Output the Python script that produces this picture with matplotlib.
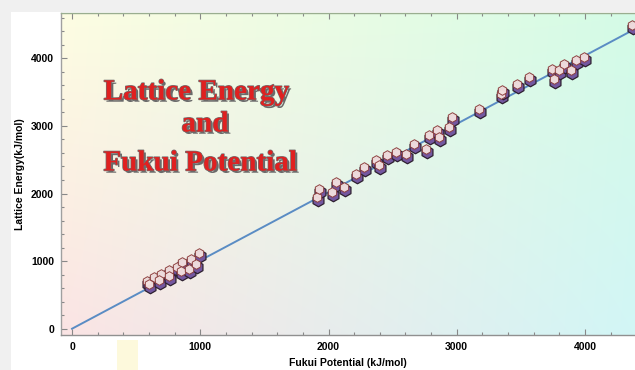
import numpy as np
import matplotlib
matplotlib.use("Agg")
import matplotlib.pyplot as plt
import matplotlib.patheffects as pe
import matplotlib.transforms as mtransforms
from matplotlib.patches import Rectangle
from matplotlib.ticker import MultipleLocator

# ---- data ----
fukui = [592, 647, 701, 764, 826, 865, 935, 998, 608, 686, 764, 857, 920, 974,
         1917, 1933, 2034, 2065, 2128, 2221, 2284, 2378, 2401, 2463, 2533, 2611,
         2673, 2767, 2790, 2853, 2868, 2946, 2970, 3180, 3352, 3360, 3476, 3570,
         3749, 3765, 3804, 3843, 3897, 3936, 3998, 4372]
lattice = [661, 720, 765, 824, 868, 942, 987, 1075, 617, 676, 735, 809, 839, 913,
           1904, 2022, 1978, 2126, 2052, 2244, 2348, 2451, 2377, 2525, 2570, 2540,
           2688, 2614, 2821, 2895, 2792, 2939, 3087, 3205, 3427, 3487, 3575, 3679,
           3797, 3649, 3783, 3871, 3783, 3930, 3975, 4448]
fit_slope = 1.01
fit_intercept = 0.0
x_ticks = [0, 1000, 2000, 3000, 4000]
y_ticks = [0, 1000, 2000, 3000, 4000]
title_lines = ["Lattice Energy", "and", "Fukui Potential"]

W, H = 635, 370
fig = plt.figure(figsize=(W / 100, H / 100), dpi=100, facecolor="white")

# outer grey band (top and left)
fig.patches.append(Rectangle((0, 1 - 12 / H), 1, 12 / H, transform=fig.transFigure,
                             facecolor="#f0f0f0", edgecolor="none", zorder=0))
fig.patches.append(Rectangle((0, 0), 11 / W, 1, transform=fig.transFigure,
                             facecolor="#f0f0f0", edgecolor="none", zorder=0))
# pale yellow blob under axis
fig.patches.append(Rectangle((117 / W, 0), 21 / W, 30 / H, transform=fig.transFigure,
                             facecolor="#fdf9dc", edgecolor="none", zorder=0))

ax = fig.add_axes([61 / W, 1 - 335 / H, 1 - 61 / W, (335 - 13) / H])
xmin, xmax, ymin, ymax = -86, 4390, -93, 4670
ax.set_xlim(xmin, xmax)
ax.set_ylim(ymin, ymax)

# gradient background
tl = np.array([253, 253, 226]) / 255
bl = np.array([251, 228, 228]) / 255
tr = np.array([212, 251, 230]) / 255
br = np.array([210, 246, 246]) / 255
u = np.linspace(0, 1, 200)[None, :, None]
v = np.linspace(0, 1, 120)[:, None, None]  # 0 = top
top = tl * (1 - u) + tr * u
bot = bl * (1 - u) + br * u
img = top * (1 - v) + bot * v
ax.imshow(img, extent=[xmin, xmax, ymin, ymax], aspect="auto", zorder=0,
          interpolation="bilinear")

# fit line
xl = np.array([0, xmax])
ax.plot(xl, fit_slope * xl + fit_intercept, color="#5a8cc4", lw=1.4, zorder=2)

# markers: purple base + pink highlight
ax.scatter(fukui, lattice, s=82, marker="h", facecolor="#7457a0",
           edgecolor="#2e2030", linewidths=0.9, zorder=3)
off = mtransforms.offset_copy(ax.transData, fig=fig, x=-0.8, y=2.0, units="points")
ax.scatter(fukui, lattice, s=48, marker="h", facecolor="#f4e2e0",
           edgecolor="#8a3a3a", linewidths=0.7, zorder=4, transform=off, alpha=0.95)

# ticks and spines
ax.set_xticks(x_ticks)
ax.set_yticks(y_ticks)
ax.xaxis.set_minor_locator(MultipleLocator(200))
ax.yaxis.set_minor_locator(MultipleLocator(200))
ax.tick_params(which="both", direction="in", top=True, right=False,
               color="#888888", width=0.8, labelsize=7.5, pad=5)
ax.tick_params(which="major", length=4)
ax.tick_params(which="minor", length=2.5)
for lab in ax.get_xticklabels() + ax.get_yticklabels():
    lab.set_fontweight("bold")
    lab.set_fontfamily("Liberation Sans")
ax.spines["top"].set_color("#9aae90")
ax.spines["left"].set_color("#a0a0a0")
ax.spines["bottom"].set_color("#909090")
ax.spines["right"].set_visible(False)
for s in ["top", "left", "bottom"]:
    ax.spines[s].set_linewidth(1.0)

ax.set_xlabel("Fukui Potential (kJ/mol)", fontsize=7.5, fontweight="bold",
              family="Liberation Sans", labelpad=4)
ax.set_ylabel("Lattice Energy(kJ/mol)", fontsize=7.5, fontweight="bold",
              family="Liberation Sans", labelpad=4)

# title text
effects = [pe.withSimplePatchShadow(offset=(1.6, -1.6), shadow_rgbFace="#6a6a6a", alpha=1.0),
           pe.Stroke(linewidth=1.0, foreground="#707070"), pe.Normal()]
title_pos = [(196 / W, 1 - 92 / H), (205 / W, 1 - 124 / H), (200 / W, 1 - 163 / H)]
for txt, (px, py) in zip(title_lines, title_pos):
    fig.text(px, py, txt, ha="center", va="center", fontsize=21,
             family="Liberation Serif", fontweight="bold", color="#e02020",
             path_effects=effects, zorder=10)

fig.savefig("out.png", dpi=100, facecolor=fig.get_facecolor())
